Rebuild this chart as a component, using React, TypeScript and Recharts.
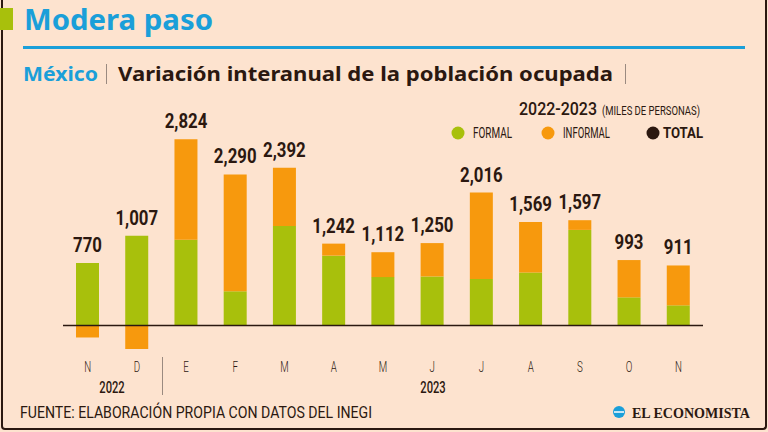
import React from 'react';
import { BarChart, Bar, XAxis, YAxis, ReferenceLine, LabelList } from 'recharts';

const periods = ['nov-22', 'dic-22', 'ene-23', 'feb-23', 'mar-23', 'abr-23', 'may-23', 'jun-23', 'jul-23', 'ago-23', 'sep-23', 'oct-23', 'nov-23'];
const monthLabels = ['N', 'D', 'E', 'F', 'M', 'A', 'M', 'J', 'J', 'A', 'S', 'O', 'N'];
const formal = [950, 1360, 1300, 520, 1510, 1060, 735, 745, 705, 805, 1450, 428, 307];
const informal = [-180, -353, 1524, 1770, 882, 182, 377, 505, 1311, 764, 147, 565, 604];
const totals = [770, 1007, 2824, 2290, 2392, 1242, 1112, 1250, 2016, 1569, 1597, 993, 911];

const data = periods.map((period, i) => ({ period, formal: formal[i], informal: informal[i] }));

const GREEN = '#a8c00c';
const ORANGE = '#f7990d';
const BLUE = '#1a9fd9';
const DARK = '#2b1810';
const BG = '#fde3cf';
const SANS = "Roboto, 'Liberation Sans', sans-serif";
const fmt = (v: number) => v.toLocaleString('en-US');

// condensed look: no narrow font installed, so squeeze horizontally
function Narrow({ x, y, sx = 0.75, size, weight = 400, anchor = 'start', children }: any) {
  return (
    <text transform={`translate(${x} ${y}) scale(${sx} 1)`} textAnchor={anchor} fontFamily={SANS} fontSize={size} fontWeight={weight} fill={DARK}>
      {children}
    </text>
  );
}

// total goes above whichever segment is the visible top of the bar
const totalLabel = (onFormal: boolean) => (props: any) => {
  const vb = props.viewBox || props;
  const idx = props.index;
  if (idx == null) return null;
  const negInformal = informal[idx] < 0;
  if (onFormal !== negInformal) return null;
  const x = (vb.x ?? props.x) + (vb.width ?? props.width) / 2;
  const y = vb.y ?? props.y;
  return (
    <Narrow x={x} y={y - 11} sx={0.8} size={21} weight={700} anchor="middle">
      {fmt(totals[idx])}
    </Narrow>
  );
};

const MonthTick = (props: any) => {
  const { x, y, index } = props;
  return (
    <Narrow x={x} y={y + 18} sx={0.65} size={15} weight={300} anchor="middle">
      {monthLabels[index]}
    </Narrow>
  );
};

export default function App() {
  return (
    <div style={{ position: 'fixed', left: 0, top: 0, width: 768, height: 432, background: BG, overflow: 'hidden' }}>
      <div style={{ position: 'absolute', left: 1, top: 0, width: 762, height: 428, borderLeft: `2px solid ${DARK}`, borderRight: `2px solid ${DARK}`, borderBottom: `2px solid ${DARK}`, borderBottomLeftRadius: 4, borderBottomRightRadius: 4 }} />
      <div style={{ position: 'absolute', left: 0, top: 8, width: 13, height: 22, background: GREEN }} />
      <div style={{ position: 'absolute', left: 0, top: 0 }}>
        <BarChart width={768} height={432} data={data} stackOffset="sign" barSize={23} margin={{ top: 121, right: 65, bottom: 50, left: 63 }}>
          <XAxis dataKey="period" axisLine={false} tickLine={false} tickSize={0} height={30} interval={0} tick={<MonthTick />} />
          <YAxis hide domain={[-400, 3100]} allowDataOverflow />
          <Bar dataKey="formal" stackId="a" fill={GREEN} isAnimationActive={false}>
            <LabelList content={totalLabel(true)} />
          </Bar>
          <Bar dataKey="informal" stackId="a" fill={ORANGE} isAnimationActive={false}>
            <LabelList content={totalLabel(false)} />
          </Bar>
          <ReferenceLine y={0} stroke={DARK} strokeWidth={1.5} />
        </BarChart>
      </div>
      <svg width={768} height={432} style={{ position: 'absolute', left: 0, top: 0, pointerEvents: 'none' }}>
        <text x={24} y={30} fontFamily="'Noto Sans', sans-serif" fontWeight={700} fontSize={29} fill={BLUE} textLength={189} lengthAdjust="spacingAndGlyphs">Modera paso</text>
        <rect x={23} y={46} width={722} height={3} fill={BLUE} />
        <text x={23} y={81} fontFamily="'Noto Sans', sans-serif" fontWeight={700} fontSize={20} fill={BLUE} textLength={75} lengthAdjust="spacingAndGlyphs">México</text>
        <rect x={106} y={64} width={1} height={20} fill="#9a8a80" />
        <text x={118} y={81} fontFamily="'Noto Sans', sans-serif" fontWeight={700} fontSize={20} fill={DARK} textLength={495} lengthAdjust="spacingAndGlyphs">Variación interanual de la población ocupada</text>
        <rect x={625} y={64} width={1} height={20} fill="#9a8a80" />

        <text x={519} y={115} fontFamily={SANS} fontWeight={500} fontSize={18} fill={DARK} textLength={78} lengthAdjust="spacingAndGlyphs">2022-2023</text>
        <text x={602} y={115} fontFamily={SANS} fontSize={13} fill={DARK} textLength={98} lengthAdjust="spacingAndGlyphs">(MILES DE PERSONAS)</text>
        <circle cx={458} cy={133} r={6.5} fill={GREEN} />
        <text x={473} y={138} fontFamily={SANS} fontSize={14} fill={DARK} textLength={39} lengthAdjust="spacingAndGlyphs">FORMAL</text>
        <circle cx={548} cy={133} r={6.5} fill={ORANGE} />
        <text x={563} y={138} fontFamily={SANS} fontSize={14} fill={DARK} textLength={47} lengthAdjust="spacingAndGlyphs">INFORMAL</text>
        <circle cx={653} cy={133} r={6.5} fill={DARK} />
        <text x={663} y={138} fontFamily={SANS} fontWeight={700} fontSize={14} fill={DARK} textLength={40} lengthAdjust="spacingAndGlyphs">TOTAL</text>

        <Narrow x={112} y={393} sx={0.7} size={16} weight={500} anchor="middle">2022</Narrow>
        <Narrow x={433} y={393} sx={0.7} size={16} weight={500} anchor="middle">2023</Narrow>
        <rect x={162} y={357} width={1} height={38} fill="#9a8a80" />

        <text x={20} y={418} fontFamily={SANS} fontSize={17} fill={DARK} textLength={352} lengthAdjust="spacingAndGlyphs">FUENTE: ELABORACIÓN PROPIA CON DATOS DEL INEGI</text>
        <circle cx={619} cy={412} r={6} fill={BLUE} />
        <path d="M614 412 h10" stroke="#ffffff" strokeWidth={1.5} />
        <text x={632} y={418} fontFamily="'Liberation Serif', serif" fontWeight={700} fontSize={15} fill={DARK} textLength={118} lengthAdjust="spacingAndGlyphs">EL ECONOMISTA</text>
      </svg>
    </div>
  );
}
